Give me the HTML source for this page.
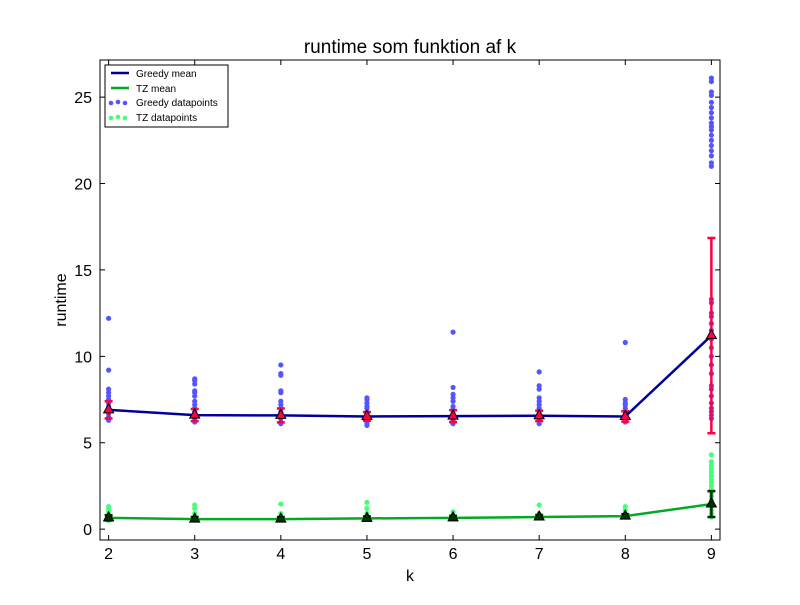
<!DOCTYPE html>
<html><head><meta charset="utf-8"><style>
body{margin:0;background:#fff;}
svg text{font-family:"Liberation Sans",sans-serif;}
</style></head><body>
<svg id="chart" width="800" height="600" xmlns="http://www.w3.org/2000/svg">
<rect width="800" height="600" fill="#fff"/>
<g id="plot"></g>
</svg>
<script>
const categories=[2,3,4,5,6,7,8,9];
const greedyMean=[6.9,6.6,6.58,6.52,6.54,6.56,6.52,11.2];
const greedyErr=[0.5,0.35,0.4,0.25,0.35,0.3,0.3,5.65];
const tzMean=[0.65,0.58,0.58,0.62,0.65,0.7,0.75,1.45];
const tzErr=[0.15,0.12,0.12,0.12,0.12,0.12,0.12,0.75];
const greedyPoints=[
[12.2,9.2,8.1,7.9,7.7,7.5,7.3,7.1,6.9,6.7,6.5,6.3],
[8.7,8.6,8.4,8.0,7.9,7.7,7.4,7.2,7.0,6.8,6.6,6.4,6.2],
[9.5,9.0,8.9,8.0,7.9,7.4,7.2,7.0,6.8,6.6,6.4,6.2,6.1],
[7.6,7.5,7.3,7.1,7.0,6.8,6.6,6.4,6.2,6.1,6.0],
[11.4,8.2,7.8,7.6,7.4,7.1,6.9,6.7,6.5,6.3,6.1],
[9.1,8.3,8.1,7.6,7.4,7.2,7.0,6.8,6.6,6.4,6.2,6.1],
[10.8,7.5,7.3,7.2,7.0,6.8,6.6,6.4,6.3,6.2],
[26.1,25.9,25.3,25.1,24.7,24.4,24.1,23.8,23.5,23.3,23.1,22.8,22.5,22.2,21.9,21.6,21.2,21.0,13.3,13.1,12.5,12.3,11.9,11.5,11.0,10.5,10.0,9.5,9.0,8.3,8.1,7.7,7.3,7.0,6.8,6.6,6.4]];
const tzPoints=[
[1.3,1.1,0.9,0.7,0.5],[1.4,1.2,0.9,0.6],[1.45,0.9,0.7],[1.55,1.2,0.9,0.6],
[1.0,0.8,0.6],[1.4,0.9,0.7],[1.3,1.1,0.7],
[4.3,3.9,3.7,3.5,3.3,3.1,2.9,2.7,2.5,2.3,2.1,1.9,1.7,1.5,1.3,1.1,0.9,0.7]];
const xTicks=[2,3,4,5,6,7,8,9];
const yTicks=[0,5,10,15,20,25];

const L=100,R=720,T=60,B=540,xmin=1.9,xmax=9.1,ymin=-0.63,ymax=27.15;
const X=v=>L+(v-xmin)/(xmax-xmin)*(R-L);
const Y=v=>B-(v-ymin)/(ymax-ymin)*(B-T);
const NS="http://www.w3.org/2000/svg";
const g=document.getElementById('plot');
function mk(tag,attrs,parent){const e=document.createElementNS(NS,tag);for(const k in attrs)e.setAttribute(k,attrs[k]);(parent||g).appendChild(e);return e;}
function tri(cx,cy,fill){return `${cx},${cy-6} ${cx-5},${cy+3} ${cx+5},${cy+3}`;}

// scatter
greedyPoints.forEach((arr,i)=>arr.forEach(v=>{
 const c=mk('circle',{cx:X(categories[i]),cy:Y(v),r:2.6,fill:'#5555ff'});
 
 
}));
tzPoints.forEach((arr,i)=>arr.forEach(v=>{
 const c=mk('circle',{cx:X(categories[i]),cy:Y(v),r:2.6,fill:'#44ff77'});
 
 
}));
// error bars
function errs(means,errsA,color,name){
 means.forEach((m,i)=>{
  const x=X(categories[i]),y1=Y(m-errsA[i]),y2=Y(m+errsA[i]);
  const e=mk('path',{d:`M${x},${y1}V${y2}M${x-4},${y1}H${x+4}M${x-4},${y2}H${x+4}`,stroke:color,'stroke-width':2.5,fill:'none'});
  
  
 });
}
errs(greedyMean,greedyErr,'#ff0044','greedy-error-bar');
errs(tzMean,tzErr,'#003300','tz-error-bar');
// lines
const gl=mk('polyline',{points:categories.map((c,i)=>X(c)+','+Y(greedyMean[i])).join(' '),fill:'none',stroke:'#000099','stroke-width':2.5});


const tl=mk('polyline',{points:categories.map((c,i)=>X(c)+','+Y(tzMean[i])).join(' '),fill:'none',stroke:'#00aa22','stroke-width':2.5});


// markers
greedyMean.forEach((m,i)=>{const p=mk('polygon',{points:tri(X(categories[i]),Y(m)),fill:'#ff0044',stroke:'#000','stroke-width':1});
 
 });
tzMean.forEach((m,i)=>{const p=mk('polygon',{points:tri(X(categories[i]),Y(m)),fill:'#003300',stroke:'#000','stroke-width':1});
 
 });
// axes frame
const fr=mk('rect',{x:L,y:T,width:R-L,height:B-T,fill:'none',stroke:'#000','stroke-width':1});


xTicks.forEach(t=>{const x=X(t);
 mk('path',{d:`M${x},${B}v-5M${x},${T}v5`,stroke:'#000'});
 const tx=mk('text',{x:x,y:B+19,'font-size':16,'text-anchor':'middle'});tx.textContent=t;
 
 });
yTicks.forEach(t=>{const y=Y(t);
 mk('path',{d:`M${L},${y}h5M${R},${y}h-5`,stroke:'#000'});
 const tx=mk('text',{x:L-8,y:y+6,'font-size':16,'text-anchor':'end'});tx.textContent=t;
 
 });
</script>
<svg style="position:absolute;left:0;top:0" width="800" height="600" xmlns="http://www.w3.org/2000/svg">
<text x="410" y="53" font-size="19" text-anchor="middle">runtime som funktion af k</text>
<text x="410" y="581" font-size="16" text-anchor="middle">k</text>
<text x="66" y="300" font-size="16" text-anchor="middle" transform="rotate(-90 66 300)">runtime</text>
<g>
<rect x="105" y="65" width="123" height="62" fill="#fff" stroke="#000"/>
<line x1="111" y1="73" x2="129" y2="73" stroke="#000099" stroke-width="2.5"/>
<text x="136" y="77" font-size="10">Greedy mean</text>
<line x1="111" y1="88" x2="129" y2="88" stroke="#00aa22" stroke-width="2.5"/>
<text x="136" y="92" font-size="10">TZ mean</text>
<circle cx="111" cy="103" r="2.3" fill="#5555ff"/><circle cx="118" cy="102" r="2.3" fill="#5555ff"/><circle cx="125" cy="103" r="2.3" fill="#5555ff"/>
<text x="136" y="106" font-size="10">Greedy datapoints</text>
<circle cx="111" cy="118" r="2.3" fill="#44ff77"/><circle cx="118" cy="117" r="2.3" fill="#44ff77"/><circle cx="125" cy="118" r="2.3" fill="#44ff77"/>
<text x="136" y="121" font-size="10">TZ datapoints</text>
</g>
</svg>
</body></html>
